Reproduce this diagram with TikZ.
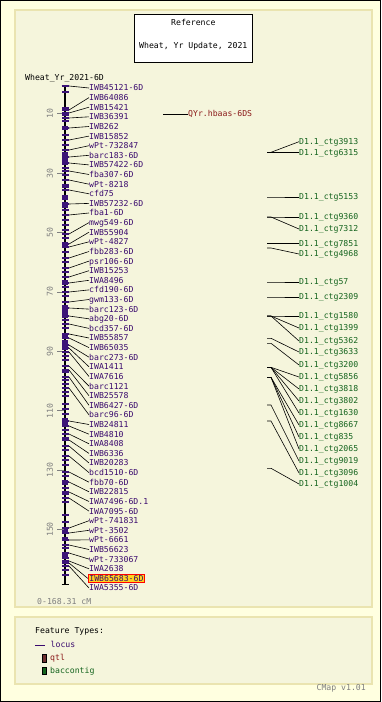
\documentclass[tikz,border=0pt]{standalone}
\usepackage{fontspec}
\setmonofont{DejaVu Sans Mono}
\definecolor{outerbg}{HTML}{FFFFE0}
\definecolor{panelbg}{HTML}{F5F5DC}
\definecolor{panelbd}{HTML}{EAE4B0}
\definecolor{locuscol}{HTML}{3A0A6E}
\definecolor{tickcol}{HTML}{3C1478}
\definecolor{qtlcol}{HTML}{8B1A1A}
\definecolor{qtlbox}{HTML}{6E3030}
\definecolor{bacol}{HTML}{14641E}
\definecolor{greycol}{HTML}{7F7F7F}
\definecolor{hlfill}{HTML}{FFD21F}
\begin{document}
\begin{tikzpicture}[x=1bp,y=-1bp,
  txt/.style={font=\ttfamily\fontsize{8.2}{9}\selectfont, inner sep=0pt, text height=6pt, text depth=0pt},
  lbl/.style={txt, anchor=west, text=locuscol},
  blbl/.style={txt, anchor=west, text=bacol},
  qlbl/.style={txt, anchor=west, text=qtlcol},
  conn/.style={black, line width=0.6bp},
  mtick/.style={tickcol, line width=1.1bp},
  mblock/.style={fill=tickcol},
  scl/.style={txt, text=greycol, rotate=90},
  panel/.style={fill=panelbg, draw=panelbd, line width=1.5bp}]
\useasboundingbox (0,0) rectangle (381,702);
\fill[outerbg] (0,0) rectangle (381,702);
\draw[black, line width=1bp] (0.5,0.5) rectangle (380.5,701.5);
% panels
\path[panel] (15,10) rectangle (372,607);
\path[panel] (15,617) rectangle (372,684);
% title box
\node[draw=black, fill=white, line width=1bp, minimum width=118bp, minimum height=48bp, inner sep=0pt] (title) at (193.3,38.3) {};
\node[txt] (t1) at (193.3,22.7) {Reference};
\node[txt] (t2) at (193.3,45.7) {Wheat, Yr Update, 2021};
\node[txt, anchor=west] (maptitle) at (25,77.7) {Wheat\_Yr\_2021-6D};
% chromosome
\draw[black, line width=2bp] (65,86) -- (65,585);
\draw[black, line width=1.5bp] (61.5,86) -- (68.5,86);
\draw[black, line width=1.5bp] (61.5,584.5) -- (68.5,584.5);
% blocks
\foreach \a/\b in {126.5/130, 152/165, 195/200, 202/208, 242/248, 280/285, 305/318, 334/338, 340/350, 418/427, 480/485, 528/532, 537/540, 552/557, 560/563}
  \path[mblock] (62,\a) rectangle (68,\b);
% extra ticks
\foreach \y in {92, 108, 115, 121, 135, 145, 168, 175, 185, 187, 210, 220, 225, 230, 238, 252, 262, 272, 287, 296, 320, 328, 356, 360, 372, 380, 384, 392, 396, 404, 409, 414, 430, 438, 450, 460, 465, 476, 488, 494, 502, 515, 522, 548, 558, 570, 575}
  \draw[mtick] (62,\y) -- (69,\y);
% scale
\foreach \c in {10,30,50,70,90,110,130,150}{
  \draw[greycol, line width=0.7bp] (57,84+2.97*\c) -- (64,84+2.97*\c);
  \node[scl] (s\c) at (50,84+2.97*\c) {\c};
}
\node[txt, anchor=west, text=greycol] (range) at (37,601.7) {0-168.31 cM};
% loci
\foreach \ly/\my/\t [count=\i] in {
 88.0/86/IWB45121-6D, 97.6/110/IWB64086, 107.2/113/IWB15421, 116.8/118/IWB36391,
 126.5/128/IWB262, 136.1/140/IWB15852, 145.7/150/wPt-732847, 155.3/157/barc183-6D,
 164.9/163/IWB57422-6D, 174.5/171/fba307-6D, 184.2/180/wPt-8218, 193.8/190/cfd75,
 203.4/204/IWB57232-6D, 213.0/215/fba1-6D, 222.6/234/mwg549-6D, 232.2/244/IWB55904,
 241.8/247/wPt-4827, 251.5/258/fbb283-6D, 261.1/268/psr106-6D, 270.7/277/IWB15253,
 280.3/283/IWA8496, 289.9/292/cfd190-6D, 299.5/302/gwm133-6D, 309.1/308/barc123-6D,
 318.8/316/abg20-6D, 328.4/324/bcd357-6D, 338.0/334/IWB55857, 347.6/338/IWB65035,
 357.2/345/barc273-6D, 366.8/348/IWA1411, 376.5/352/IWA7616, 386.1/366/barc1121,
 395.7/370/IWB25578, 405.3/377/IWB6427-6D, 414.9/388/barc96-6D, 424.5/421/IWB24811,
 434.2/426/IWB4810, 443.8/434/IWA8408, 453.4/440/IWB6336, 463.0/446/IWB20283,
 472.6/456/bcd1510-6D, 482.2/472/fbb70-6D, 491.8/482/IWB22815, 501.5/492/IWA7496-6D.1,
 511.1/498/IWA7095-6D, 520.7/528/wPt-741831, 530.3/533/wPt-3502, 539.9/540/wPt-6661,
 549.5/545/IWB56623, 559.1/553/wPt-733067, 568.8/561/IWA2638}{
  \draw[mtick] (62,\my) -- (69,\my);
  \coordinate (M\i) at (69,\my);
  \node[lbl] (L\i) at (89,\ly) {\t};
  \draw[conn] (M\i) -- (L\i.west);
}
\draw[mtick] (62,563) -- (69,563);
\draw[mtick] (62,566) -- (69,566);
\coordinate (M52) at (69,563);
\node[lbl, draw=red, fill=hlfill, line width=0.8bp, inner xsep=1.2bp, inner ysep=1.5bp] (L52) at (87.8,578.4) {IWB65683-6D};
\draw[conn] (M52) -- (L52.west);
\coordinate (M53) at (69,566);
\node[lbl] (L53) at (89,588.0) {IWA5355-6D};
\draw[conn] (M53) -- (L53.west);
% qtl
\coordinate (Q0) at (163,114);
\node[qlbl] (Q1) at (188,114) {QYr.hbaas-6DS};
\draw[conn] (Q0) -- (Q1.west);
% baccontigs
\foreach \oy/\ly/\t [count=\i] in {
 152.3/141.7/3913, 152.3/152.3/6315, 197/197/5153, 217/217/9360, 217/229/7312,
 243.3/243.3/7851, 248/254/4968, 282/282/57, 297/297/2309, 316/316/1580,
 316/328/1399, 316/341/5362, 338.3/352/3633, 343.3/365/3200, 367.3/377/5856,
 367.3/389/3818, 367.3/401/3802, 367.3/413/1630, 377.3/425/8667, 377.3/437/835,
 377.3/449/2065, 405/461/9019, 421/473/3096, 468.3/484/1004}{
  \coordinate (B\i) at (267,\oy);
  \node[blbl] (C\i) at (299,\ly) {D1.1\_ctg\t};
  \draw[conn] (B\i) -- ++(4,0) -- (C\i.west);
}
% legend
\node[txt, anchor=west] (ft) at (35,631) {Feature Types:};
\coordinate (lg0) at (35,645);
\node[lbl] (lg1) at (50.5,645) {locus};
\draw[locuscol, line width=0.8bp] (lg0) -- (45,645);
\node[draw=black, fill=qtlbox, line width=0.5bp, minimum width=3.5bp, minimum height=7.5bp, inner sep=0pt] (qb) at (44,658) {};
\node[qlbl] (ql) at (50,658) {qtl};
\node[draw=black, fill=bacol, line width=0.5bp, minimum width=3.5bp, minimum height=7.5bp, inner sep=0pt] (bb) at (44,670.5) {};
\node[blbl] (bl) at (50,671) {baccontig};
\node[txt, anchor=east, text=greycol] (ver) at (366,688) {CMap v1.01};
\end{tikzpicture}
\end{document}
